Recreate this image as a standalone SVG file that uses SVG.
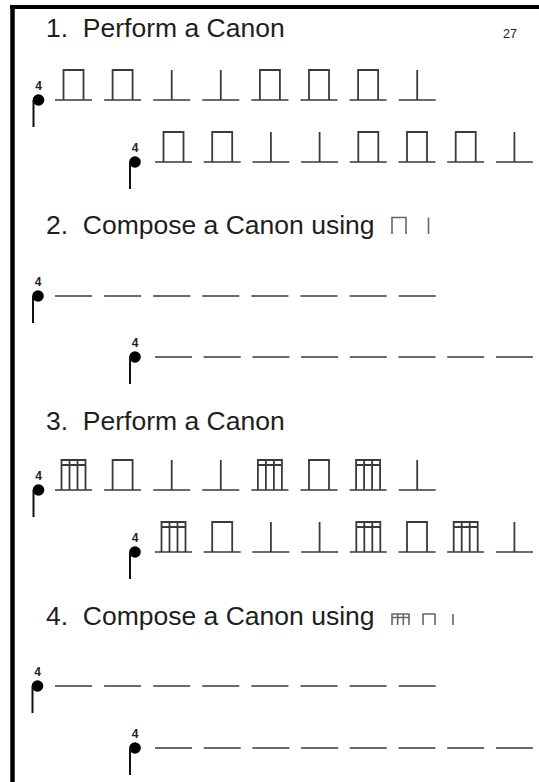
<svg xmlns="http://www.w3.org/2000/svg" xmlns:xlink="http://www.w3.org/1999/xlink" width="539" height="782" viewBox="0 0 539 782">
<style>
.title{font-family:"Liberation Sans",Arial,sans-serif;font-size:26.5px;fill:#1e1e1e}
.pg{font-family:"Liberation Sans",Arial,sans-serif;font-size:12.5px;fill:#222}
.ts{font-family:"Liberation Sans",Arial,sans-serif;font-size:12px;font-weight:bold;fill:#222;text-anchor:middle}
.bl{stroke:#6a6a6a;stroke-width:2;fill:none}
.nt{stroke:#3a3a3a;stroke-width:1.8;fill:none}
.sym{stroke:#666;stroke-width:1.6;fill:none}
.stem{stroke:#111;stroke-width:2}
</style>
<defs>
<line id="base" x1="-18.5" y1="0" x2="18.5" y2="0" class="bl"/>
<g id="q"><use xlink:href="#base"/><line x1="0" y1="0" x2="0" y2="-30" class="nt"/></g>
<g id="tt"><use xlink:href="#base"/><path d="M-10,0V-30H10V0" class="nt"/></g>
<g id="tk"><use xlink:href="#base"/><path d="M-12,0V-30H12V0M-4,0V-30M4,0V-30M-12,-25H12" class="nt"/></g>
<g id="clef"><text x="0" y="-10" class="ts">4</text><circle r="5.8" fill="#000"/><line x1="-5" y1="0" x2="-5" y2="27" class="stem"/></g>
</defs>
<rect width="539" height="782" fill="#fff"/>
<g id="border" stroke="#000" fill="none">
<line x1="10" y1="7" x2="539" y2="7" stroke-width="4"/>
<line x1="12.5" y1="5" x2="12.5" y2="782" stroke-width="4.5"/>
</g>
<text id="page" class="pg" x="503" y="38">27</text>
<g id="title1"><text class="title" x="46" y="37" xml:space="preserve">1.  Perform a Canon</text></g>
<g id="row1">
<use xlink:href="#clef" x="38.5" y="100"/>
<use xlink:href="#tt" x="73.5" y="100"/><use xlink:href="#tt" x="122.6" y="100"/><use xlink:href="#q" x="171.7" y="100"/><use xlink:href="#q" x="220.8" y="100"/><use xlink:href="#tt" x="269.9" y="100"/><use xlink:href="#tt" x="319" y="100"/><use xlink:href="#tt" x="368.1" y="100"/><use xlink:href="#q" x="417.2" y="100"/>
</g>
<g id="row2">
<use xlink:href="#clef" x="135" y="162"/>
<use xlink:href="#tt" x="173.5" y="162"/><use xlink:href="#tt" x="222.2" y="162"/><use xlink:href="#q" x="270.9" y="162"/><use xlink:href="#q" x="319.6" y="162"/><use xlink:href="#tt" x="368.3" y="162"/><use xlink:href="#tt" x="417" y="162"/><use xlink:href="#tt" x="465.7" y="162"/><use xlink:href="#q" x="514.4" y="162"/>
</g>
<g id="title2"><text class="title" x="46" y="234" xml:space="preserve">2.  Compose a Canon using</text>
<path class="sym" d="M392,234V217.5H406V234M428.5,217.5V234"/></g>
<g id="row3">
<use xlink:href="#clef" x="38" y="296"/>
<use xlink:href="#base" x="73.5" y="296"/><use xlink:href="#base" x="122.6" y="296"/><use xlink:href="#base" x="171.7" y="296"/><use xlink:href="#base" x="220.8" y="296"/><use xlink:href="#base" x="269.9" y="296"/><use xlink:href="#base" x="319" y="296"/><use xlink:href="#base" x="368.1" y="296"/><use xlink:href="#base" x="417.2" y="296"/>
</g>
<g id="row4">
<use xlink:href="#clef" x="135" y="357"/>
<use xlink:href="#base" x="173.5" y="357"/><use xlink:href="#base" x="222.2" y="357"/><use xlink:href="#base" x="270.9" y="357"/><use xlink:href="#base" x="319.6" y="357"/><use xlink:href="#base" x="368.3" y="357"/><use xlink:href="#base" x="417" y="357"/><use xlink:href="#base" x="465.7" y="357"/><use xlink:href="#base" x="514.4" y="357"/>
</g>
<g id="title3"><text class="title" x="46" y="430" xml:space="preserve">3.  Perform a Canon</text></g>
<g id="row5">
<use xlink:href="#clef" x="38.5" y="490"/>
<use xlink:href="#tk" x="73.5" y="490"/><use xlink:href="#tt" x="122.6" y="490"/><use xlink:href="#q" x="171.7" y="490"/><use xlink:href="#q" x="220.8" y="490"/><use xlink:href="#tk" x="269.9" y="490"/><use xlink:href="#tt" x="319" y="490"/><use xlink:href="#tk" x="368.1" y="490"/><use xlink:href="#q" x="417.2" y="490"/>
</g>
<g id="row6">
<use xlink:href="#clef" x="135" y="552"/>
<use xlink:href="#tk" x="173.5" y="552"/><use xlink:href="#tt" x="222.2" y="552"/><use xlink:href="#q" x="270.9" y="552"/><use xlink:href="#q" x="319.6" y="552"/><use xlink:href="#tk" x="368.3" y="552"/><use xlink:href="#tt" x="417" y="552"/><use xlink:href="#tk" x="465.7" y="552"/><use xlink:href="#q" x="514.4" y="552"/>
</g>
<g id="title4"><text class="title" x="46" y="625" xml:space="preserve">4.  Compose a Canon using</text>
<path class="sym" d="M392,625V614H409V625M397.7,625V614M403.3,625V614M392,617.5H409M423,625V614H435V625M453,614V625"/></g>
<g id="row7">
<use xlink:href="#clef" x="37.5" y="686"/>
<use xlink:href="#base" x="73.5" y="686"/><use xlink:href="#base" x="122.6" y="686"/><use xlink:href="#base" x="171.7" y="686"/><use xlink:href="#base" x="220.8" y="686"/><use xlink:href="#base" x="269.9" y="686"/><use xlink:href="#base" x="319" y="686"/><use xlink:href="#base" x="368.1" y="686"/><use xlink:href="#base" x="417.2" y="686"/>
</g>
<g id="row8">
<use xlink:href="#clef" x="135" y="748"/>
<use xlink:href="#base" x="173.5" y="748"/><use xlink:href="#base" x="222.2" y="748"/><use xlink:href="#base" x="270.9" y="748"/><use xlink:href="#base" x="319.6" y="748"/><use xlink:href="#base" x="368.3" y="748"/><use xlink:href="#base" x="417" y="748"/><use xlink:href="#base" x="465.7" y="748"/><use xlink:href="#base" x="514.4" y="748"/>
</g>
</svg>
